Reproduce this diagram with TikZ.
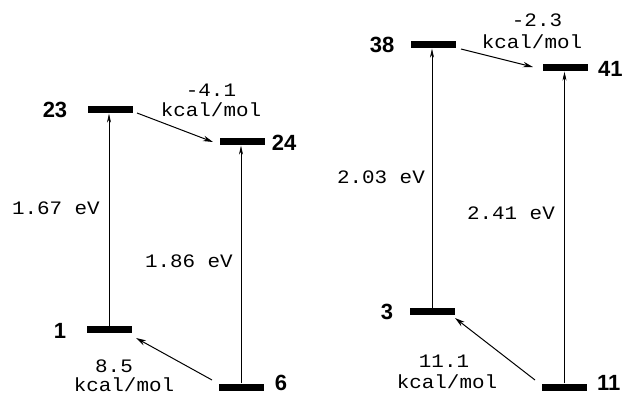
\documentclass[tikz,border=0pt]{standalone}
\usepackage{fontspec}
\setmainfont{Liberation Sans}
\newfontfamily\tfont[FakeStretch=1.1]{Liberation Mono}
\usetikzlibrary{arrows.meta}
\begin{document}
\begin{tikzpicture}[x=1pt,y=-1pt,
  lvl/.style={fill=black,minimum width=45pt,minimum height=7pt,inner sep=0pt},
  num/.style={font=\fontsize{22}{22}\selectfont\bfseries,inner sep=0pt},
  txt/.style={font=\fontsize{19}{19}\selectfont\tfont,inner sep=0pt},
  conn/.style={-{Stealth[length=10pt,width=5.5pt]},line width=1pt},
  vconn/.style={-{Stealth[length=9pt,width=4pt]},line width=0.6pt}]
\useasboundingbox (0,0) rectangle (626,395);
% left panel
\node[lvl] (n23) at (110.5,110) {};
\node[lvl] (n24) at (242.5,142) {};
\node[lvl] (n1) at (109,329.5) {};
\node[lvl] (n6) at (241,387) {};
\node[num] (l23) at (55,110) {23};
\node[num] (l24) at (284,143) {24};
\node[num] (l1) at (60,331) {1};
\node[num] (l6) at (281,383) {6};
\draw[vconn] (n1.north) -- (n1.north |- n23.south);
\draw[vconn] (n6.north) -- (n6.north |- n24.south);
\coordinate (a1) at (137,113);
\coordinate (b1) at (213,142);
\coordinate (a2) at (212,380);
\coordinate (b2) at (136,338);
\draw[conn] (a1) -- (b1);
\draw[conn] (a2) -- (b2);
\node[txt,anchor=base east] (e1) at (100,215) {1.67 eV};
\node[txt,anchor=base east] (e2) at (233,268) {1.86 eV};
\node[txt,anchor=base] (k1a) at (211,97) {-4.1};
\node[txt,anchor=base] (k1b) at (211,117) {kcal/mol};
\node[txt,anchor=base] (k2a) at (114,372) {8.5};
\node[txt,anchor=base] (k2b) at (124,391) {kcal/mol};
% right panel
\node[lvl] (n38) at (433.5,45) {};
\node[lvl] (n41) at (565.5,68) {};
\node[lvl] (n3) at (432,311.5) {};
\node[lvl] (n11) at (564.5,387) {};
\node[num] (l38) at (382,45) {38};
\node[num,anchor=west] (l41) at (598,69) {41};
\node[num] (l3) at (387,312) {3};
\node[num,anchor=west] (l11) at (597,383) {11};
\draw[vconn] (n3.north) -- (n3.north |- n38.south);
\draw[vconn] (n11.north) -- (n11.north |- n41.south);
\coordinate (a3) at (461,49);
\coordinate (b3) at (533,67);
\coordinate (a4) at (535,380);
\coordinate (b4) at (455,318);
\draw[conn] (a3) -- (b3);
\draw[conn] (a4) -- (b4);
\node[txt,anchor=base east] (e3) at (425,184) {2.03 eV};
\node[txt,anchor=base east] (e4) at (555,220) {2.41 eV};
\node[txt,anchor=base] (k3a) at (537,27) {-2.3};
\node[txt,anchor=base] (k3b) at (532,49) {kcal/mol};
\node[txt,anchor=base] (k4a) at (444,367) {11.1};
\node[txt,anchor=base] (k4b) at (447,388) {kcal/mol};
\end{tikzpicture}
\end{document}
